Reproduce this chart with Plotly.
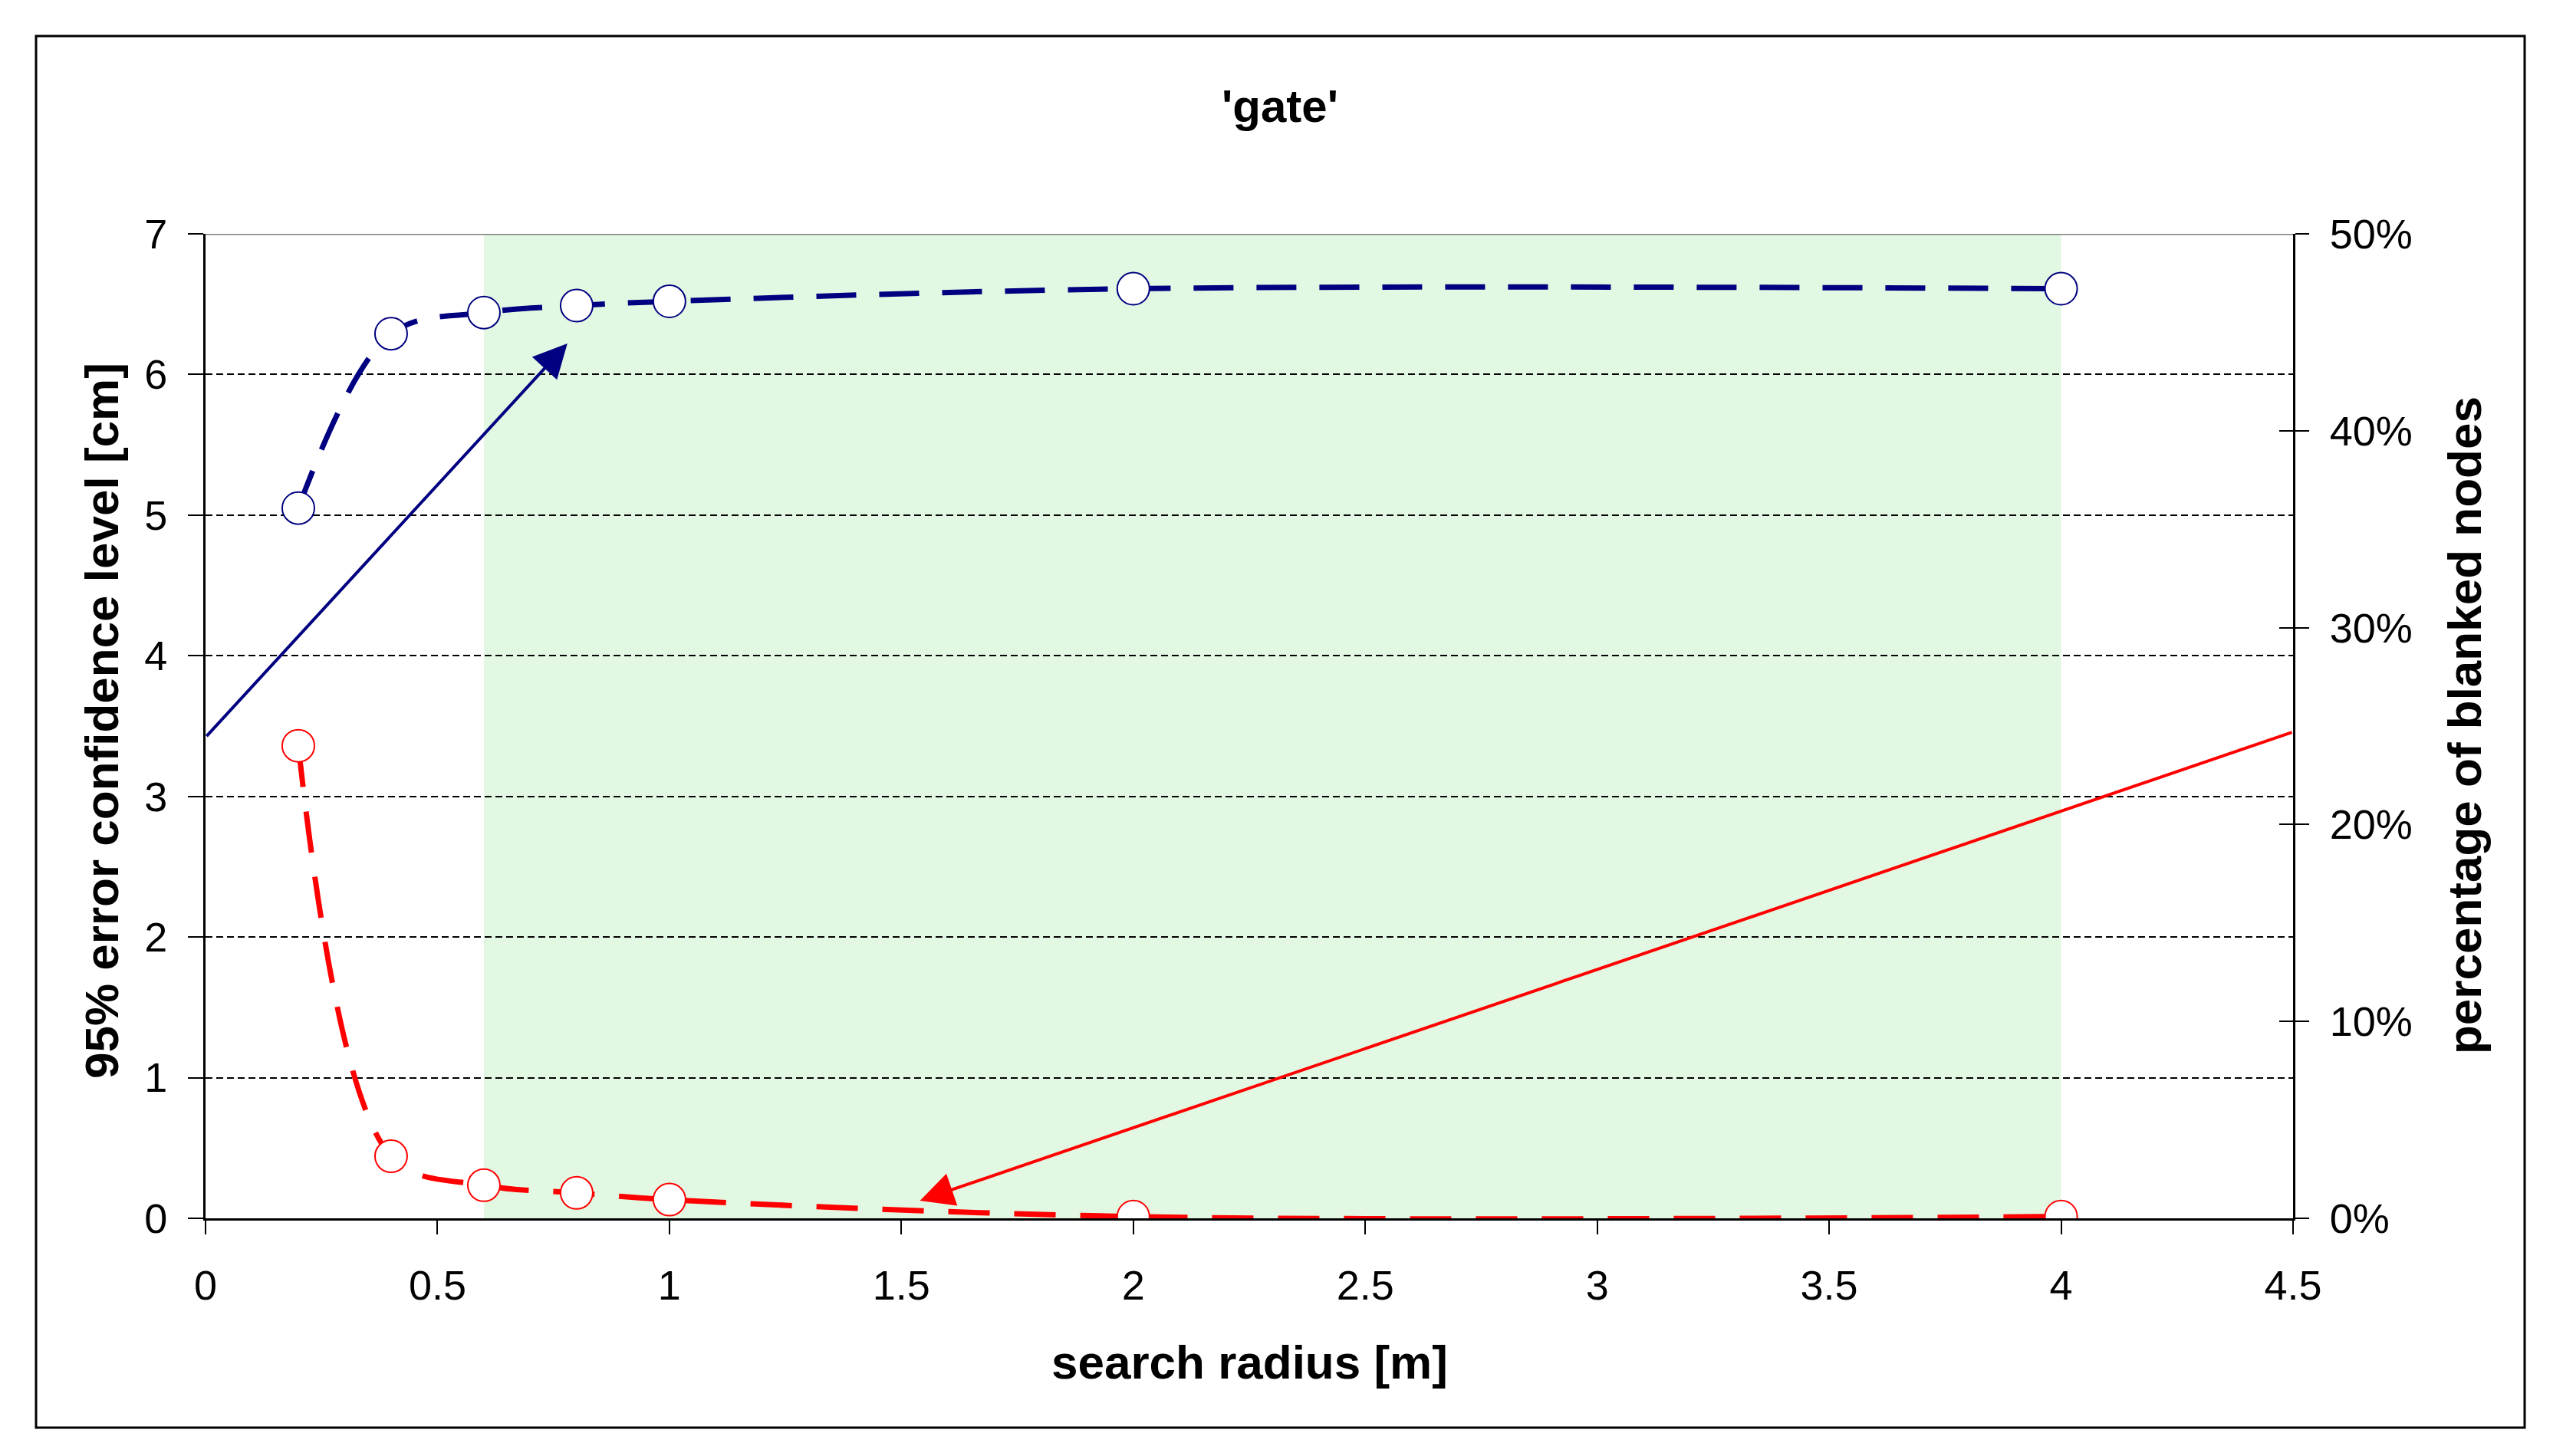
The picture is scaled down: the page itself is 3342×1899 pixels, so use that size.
import plotly.graph_objects as go

# search radius [m]
radius = [0.2, 0.4, 0.6, 0.8, 1.0, 2.0, 4.0]
# 95% error confidence level [cm]
error_cm = [5.05, 6.29, 6.44, 6.49, 6.52, 6.61, 6.61]
# percentage of blanked nodes
blanked = [0.240, 0.0315, 0.0168, 0.0129, 0.0095, 0.0009, 0.0009]

# highlighted radius band
band = [0.6, 4.0]

# arrows: (tail x, tail y) -> (tip x, tip y)
blue_arrow = [0.0, 3.42, 0.78, 6.22]
red_arrow = [4.5, 0.247, 1.54, 0.009]

FONT = "Liberation Sans, Arial, sans-serif"

# page body has an 8px margin, so shift all pixel targets
OFF = 8
# plot area in pixels of the 3342x1899 page
L, R, T, B = 268 - OFF, 2990 - OFF, 305 - OFF, 1589 - OFF
W, H = R - L, B - T


def px_x(p):
    return (p - OFF - L) / W


def px_y(p):
    return (B - (p - OFF)) / H


fig = go.Figure()

fig.add_trace(go.Scatter(
    x=radius, y=error_cm, mode="lines+markers",
    line=dict(color="#000080", width=7, dash="52px,30px", shape="spline", smoothing=1),
    marker=dict(symbol="circle", size=42, color="white",
                line=dict(color="#000080", width=2)),
    yaxis="y", showlegend=False,
))

fig.add_trace(go.Scatter(
    x=radius, y=blanked, mode="lines+markers",
    line=dict(color="#FF0000", width=7, dash="54px,32px", shape="spline", smoothing=1),
    marker=dict(symbol="circle", size=42, color="white",
                line=dict(color="#FF0000", width=2)),
    yaxis="y2", showlegend=False,
))

# green band
fig.add_shape(type="rect", xref="x", yref="y", x0=band[0], x1=band[1], y0=0, y1=7,
              fillcolor="#E2F8E2", line=dict(width=0), layer="below")
# grey top border of plot area
fig.add_shape(type="line", xref="x", yref="y", x0=0, x1=4.5, y0=7, y1=7,
              line=dict(color="#808080", width=3), layer="above")
# outer frame
fig.add_shape(type="rect", xref="paper", yref="paper",
              x0=px_x(47), x1=px_x(3292), y0=px_y(1862), y1=px_y(47),
              line=dict(color="black", width=3), fillcolor="rgba(0,0,0,0)")

fig.add_annotation(x=blue_arrow[2], y=blue_arrow[3], ax=blue_arrow[0], ay=blue_arrow[1],
                   xref="x", yref="y", axref="x", ayref="y", text="",
                   showarrow=True, arrowhead=2, arrowsize=2.2, arrowwidth=4,
                   arrowcolor="#000080")
fig.add_annotation(x=red_arrow[2], y=red_arrow[3], ax=red_arrow[0], ay=red_arrow[1],
                   xref="x", yref="y2", axref="x", ayref="y2", text="",
                   showarrow=True, arrowhead=2, arrowsize=2.2, arrowwidth=4,
                   arrowcolor="#FF0000")

# titles
titles = [
    ("<b>'gate'</b>", 1669, 139, 0, 60),
    ("<b>search radius [m]</b>", 1629, 1777, 0, 62),
    ("<b>95% error confidence level [cm]</b>", 132, 940, -90, 62),
    ("<b>percentage of blanked nodes</b>", 3213, 946, -90, 62),
]
for text, tx, ty, angle, size in titles:
    fig.add_annotation(text=text, xref="paper", yref="paper",
                       x=px_x(tx), y=px_y(ty), xanchor="center", yanchor="middle",
                       showarrow=False, textangle=angle,
                       font=dict(family=FONT, size=size, color="black"))

tick_font = dict(family=FONT, size=54, color="black")

fig.update_layout(
    width=3342, height=1899,
    margin=dict(l=L, r=3342 - R, t=T, b=1899 - B, pad=0),
    paper_bgcolor="white", plot_bgcolor="white",
    xaxis=dict(
        range=[0, 4.5], dtick=0.5, tick0=0, showgrid=False, zeroline=False,
        showline=True, linecolor="black", linewidth=3, layer="below traces",
        ticks="outside", ticklen=18, tickwidth=2, tickcolor="black",
        tickfont=tick_font, ticklabelstandoff=20,
    ),
    yaxis=dict(
        range=[0, 7], dtick=1, tick0=0, zeroline=False,
        showgrid=True, gridcolor="black", gridwidth=2, griddash="9px,5px",
        showline=True, linecolor="black", linewidth=3, layer="below traces",
        ticks="outside", ticklen=20, tickwidth=2, tickcolor="black",
        tickfont=tick_font, ticklabelstandoff=16,
    ),
    yaxis2=dict(
        range=[0, 0.5], dtick=0.1, tick0=0, tickformat=".0%",
        overlaying="y", side="right", showgrid=False, zeroline=False,
        showline=True, linecolor="black", linewidth=3, layer="below traces",
        ticks="outside", ticklen=18, tickwidth=2, tickcolor="black",
        tickfont=tick_font, ticklabelstandoff=16,
    ),
    yaxis3=dict(
        range=[0, 0.5], dtick=0.1, tick0=0,
        overlaying="y", side="right", showgrid=False, zeroline=False,
        showline=False, showticklabels=False,
        ticks="inside", ticklen=18, tickwidth=2, tickcolor="black",
    ),
)

# invisible trace so yaxis3 is drawn
fig.add_trace(go.Scatter(x=[None], y=[None], yaxis="y3", showlegend=False, hoverinfo="skip"))

fig.write_html("out.html")
